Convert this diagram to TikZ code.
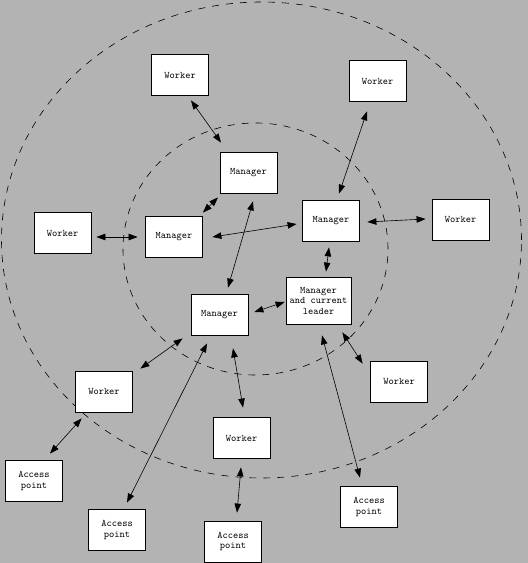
\documentclass[tikz,border=0pt]{standalone}
\usepackage[svgnames]{xcolor}
\usepackage{tikz}
\usetikzlibrary{arrows.meta}

\begin{document}
\begin{tikzpicture}[x=1pt,y=1pt,
  box/.style={draw=drawColor,fill=boxColor,line width=0.8pt,minimum width=57,minimum height=41,
    inner sep=0pt,align=center,font=\fontsize{10}{10.5}\selectfont\ttfamily},
  leadbox/.style={box,minimum width=65,minimum height=47},
  link/.style={draw=drawColor,line width=0.6pt,{Triangle[length=9pt,width=6.5pt]}-{Triangle[length=9pt,width=6.5pt]}},
  ring/.style={draw=drawColor,line width=0.6pt,dash pattern=on 7pt off 7pt}]
\definecolor{fillColor}{RGB}{179,179,179}
\definecolor{drawColor}{RGB}{0,0,0}
\definecolor{boxColor}{RGB}{255,255,255}
\path[use as bounding box,fill=fillColor] (0,0) rectangle (528,563);
\begin{scope}
\path[clip] (0,0) rectangle (528,563);

\path[ring] (261.5,323) ellipse [x radius=260,y radius=238];

\path[ring] (255.5,314) ellipse [x radius=132.5,y radius=126];
\end{scope}
\begin{scope}

\node[box] (wTopLeft) at (180,488) {Worker};

\node[box] (wTopRight) at (377.5,482) {Worker};

\node[box] (mTop) at (248.5,390.5) {Manager};

\node[box] (wLeft) at (62.5,330) {Worker};

\node[box] (mLeft) at (174,326) {Manager};

\node[box] (mRight) at (331,342.5) {Manager};

\node[box] (wRight) at (460.5,343.5) {Worker};

\node[leadbox] (mLeader) at (318.5,262.5) {Manager\\and current\\leader};

\node[box] (mCenter) at (219.5,248) {Manager};

\node[box] (wMidRight) at (399,181.5) {Worker};

\node[box] (wLowLeft) at (104,171.5) {Worker};

\node[box] (wBottom) at (241.5,125) {Worker};

\node[box] (apLeft) at (34,82) {Access\\point};

\node[box] (apBotLeft) at (117,33) {Access\\point};

\node[box] (apBottom) at (233,21.5) {Access\\point};

\node[box] (apRight) at (369,56) {Access\\point};
\end{scope}
\begin{scope}

\path[link] ([shift={(11,-4.5)}]wTopLeft.south) -- ([shift={(-27.5,9)}]mTop.north);

\path[link] ([shift={(-10.5,-9.5)}]wTopRight.south) -- ([shift={(8,6)}]mRight.north);

\path[link] ([shift={(-30.5,-4)}]mTop.south) -- ([shift={(0,3.5)}]mLeft.north east);

\path[link] ([shift={(4.5,-8)}]mTop.south) -- ([shift={(8.5,6.5)}]mCenter.north);

\path[link] ([shift={(9.5,0)}]mLeft.east) -- ([shift={(-5.5,-3.5)}]mRight.west);

\path[link] ([shift={(-2,-6)}]mRight.south) -- ([shift={(7.5,5)}]mLeader.north);

\path[link] ([shift={(6,3)}]mCenter.east) -- ([shift={(-1,-1.5)}]mLeader.west);

\path[link] ([shift={(5,-4)}]wLeft.east) -- ([shift={(-7.5,0)}]mLeft.west);

\path[link] ([shift={(7.5,-1.5)}]mRight.east) -- ([shift={(-6,0.5)}]wRight.west);

\path[link] ([shift={(7.5,2)}]wLowLeft.north east) -- ([shift={(-8,-2.5)}]mCenter.south west);

\path[link] ([shift={(-12.5,-7.5)}]mCenter.south) -- ([shift={(10,6.5)}]apBotLeft.north);

\path[link] ([shift={(13.5,-12.5)}]mCenter.south) -- ([shift={(1.5,9.5)}]wBottom.north);

\path[link] ([shift={(-0.5,-8.5)}]wBottom.south) -- ([shift={(4,8)}]apBottom.north);

\path[link] ([shift={(3.5,-11)}]mLeader.south) -- ([shift={(-9,8.5)}]apRight.north);

\path[link] ([shift={(-9,-8)}]mLeader.south east) -- ([shift={(-7.5,-3)}]wMidRight.north west);

\path[link] ([shift={(6.5,-6)}]wLowLeft.south west) -- ([shift={(16,6.5)}]apLeft.north);
\end{scope}
\end{tikzpicture}
\end{document}
